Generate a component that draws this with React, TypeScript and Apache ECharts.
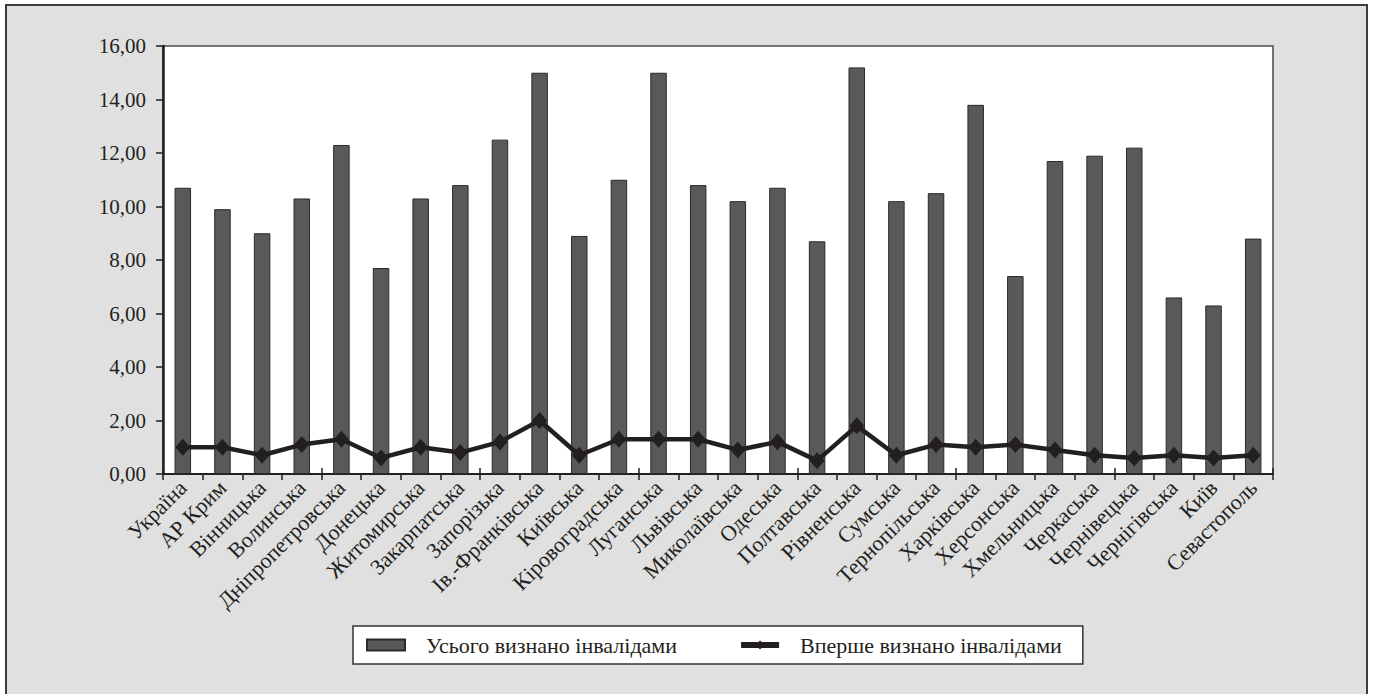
import React, { useEffect, useRef } from "react";
import * as echarts from "echarts";

const categories = [
  "Україна", "АР Крим", "Вінницька", "Волинська", "Дніпропетровська", "Донецька",
  "Житомирська", "Закарпатська", "Запорізька", "Ів.-Франківська", "Київська",
  "Кіровоградська", "Луганська", "Львівська", "Миколаївська", "Одеська", "Полтавська",
  "Рівненська", "Сумська", "Тернопільська", "Харківська", "Херсонська", "Хмельницька",
  "Черкаська", "Чернівецька", "Чернігівська", "Київ", "Севастополь",
];

const totalDisabled = [
  10.7, 9.9, 9.0, 10.3, 12.3, 7.7, 10.3, 10.8, 12.5, 15.0, 8.9, 11.0, 15.0, 10.8,
  10.2, 10.7, 8.7, 15.2, 10.2, 10.5, 13.8, 7.4, 11.7, 11.9, 12.2, 6.6, 6.3, 8.8,
];

const firstDisabled = [
  1.0, 1.0, 0.7, 1.1, 1.3, 0.6, 1.0, 0.8, 1.2, 2.0, 0.7, 1.3, 1.3, 1.3,
  0.9, 1.2, 0.5, 1.8, 0.7, 1.1, 1.0, 1.1, 0.9, 0.7, 0.6, 0.7, 0.6, 0.7,
];

const seriesNames = ["Усього визнано інвалідами", "Вперше визнано інвалідами"];

const yMin = 0;
const yMax = 16;
const yInterval = 2;

const FONT = "'Liberation Serif', 'DejaVu Serif', serif";
const TEXT = "#231f20";

export default function App() {
  const ref = useRef<HTMLDivElement>(null);

  useEffect(() => {
    if (!ref.current) return;
    const chart = echarts.init(ref.current, undefined, { renderer: "svg" });
    const gridLeft = 163;
    const gridTop = 46;
    const gridRight = 100;
    const gridBottom = 220;
    const W = 1373;
    const H = 694;
    chart.setOption({
      animation: false,
      backgroundColor: "#ffffff",
      textStyle: { fontFamily: FONT, color: TEXT },
      graphic: {
        elements: [
          {
            type: "rect",
            z: -20,
            shape: { x: 6, y: 5, width: 1361, height: 720 },
            style: { fill: "#e0e0e0", stroke: "#3c3c3c", lineWidth: 2 },
          },
          {
            type: "rect",
            z: -10,
            shape: {
              x: gridLeft,
              y: gridTop,
              width: W - gridLeft - gridRight,
              height: H - gridTop - gridBottom,
            },
            style: { fill: "#ffffff", stroke: "#4a4a4a", lineWidth: 1.5 },
          },
        ],
      },
      grid: {
        left: gridLeft,
        top: gridTop,
        right: gridRight,
        bottom: gridBottom,
        containLabel: false,
      },
      legend: {
        left: 353,
        top: 626,
        orient: "horizontal",
        padding: [8, 21, 8, 13],
        backgroundColor: "#ffffff",
        borderColor: "#333333",
        borderWidth: 1.5,
        borderRadius: 0,
        itemWidth: 38,
        itemHeight: 11,
        itemGap: 61,
        textStyle: {
          fontFamily: FONT,
          fontSize: 22,
          color: TEXT,
          padding: [0, 0, 0, 16],
        },
        data: [
          { name: seriesNames[0], icon: "rect" },
          {
            name: seriesNames[1],
            lineStyle: { width: 6, color: "#231f20" },
            itemStyle: { color: "#231f20" },
          },
        ],
      },
      xAxis: [
        {
          type: "category",
          data: categories,
          boundaryGap: true,
          axisLine: { show: true, lineStyle: { color: "#231f20", width: 2 } },
          axisTick: {
            show: true,
            inside: false,
            length: 6,
            alignWithLabel: false,
            lineStyle: { color: "#231f20", width: 1.5 },
          },
          axisLabel: {
            rotate: 45,
            interval: 0,
            margin: 10,
            fontFamily: FONT,
            fontSize: 22,
            color: TEXT,
          },
          splitLine: { show: false },
        },
        {
          type: "category",
          data: categories,
          position: "bottom",
          boundaryGap: true,
          axisLine: { show: false },
          axisTick: {
            show: true,
            inside: true,
            length: 6,
            lineStyle: { color: "#231f20", width: 1.5 },
          },
          axisLabel: { show: false },
          splitLine: { show: false },
        },
      ],
      yAxis: {
        type: "value",
        min: yMin,
        max: yMax,
        interval: yInterval,
        axisLine: { show: true, lineStyle: { color: "#231f20", width: 2.5 } },
        axisTick: { show: true, length: 7, lineStyle: { color: "#231f20", width: 1.5 } },
        axisLabel: {
          margin: 17,
          fontFamily: FONT,
          fontSize: 21,
          color: TEXT,
          formatter: (v: number) => v.toFixed(2).replace(".", ","),
        },
        splitLine: { show: false },
      },
      series: [
        {
          name: seriesNames[0],
          type: "bar",
          data: totalDisabled,
          barWidth: 16.5,
          itemStyle: { color: "#58595b", borderColor: "#2a2a2a", borderWidth: 1 },
          z: 2,
        },
        {
          name: seriesNames[1],
          type: "line",
          data: firstDisabled,
          symbol: "diamond",
          symbolSize: [15, 17],
          lineStyle: { color: "#231f20", width: 4.5 },
          itemStyle: { color: "#231f20" },
          z: 3,
        },
      ],
    });
    return () => chart.dispose();
  }, []);

  return (
    <div
      ref={ref}
      style={{ position: "fixed", left: 0, top: 0, width: "1373px", height: "694px" }}
    />
  );
}
